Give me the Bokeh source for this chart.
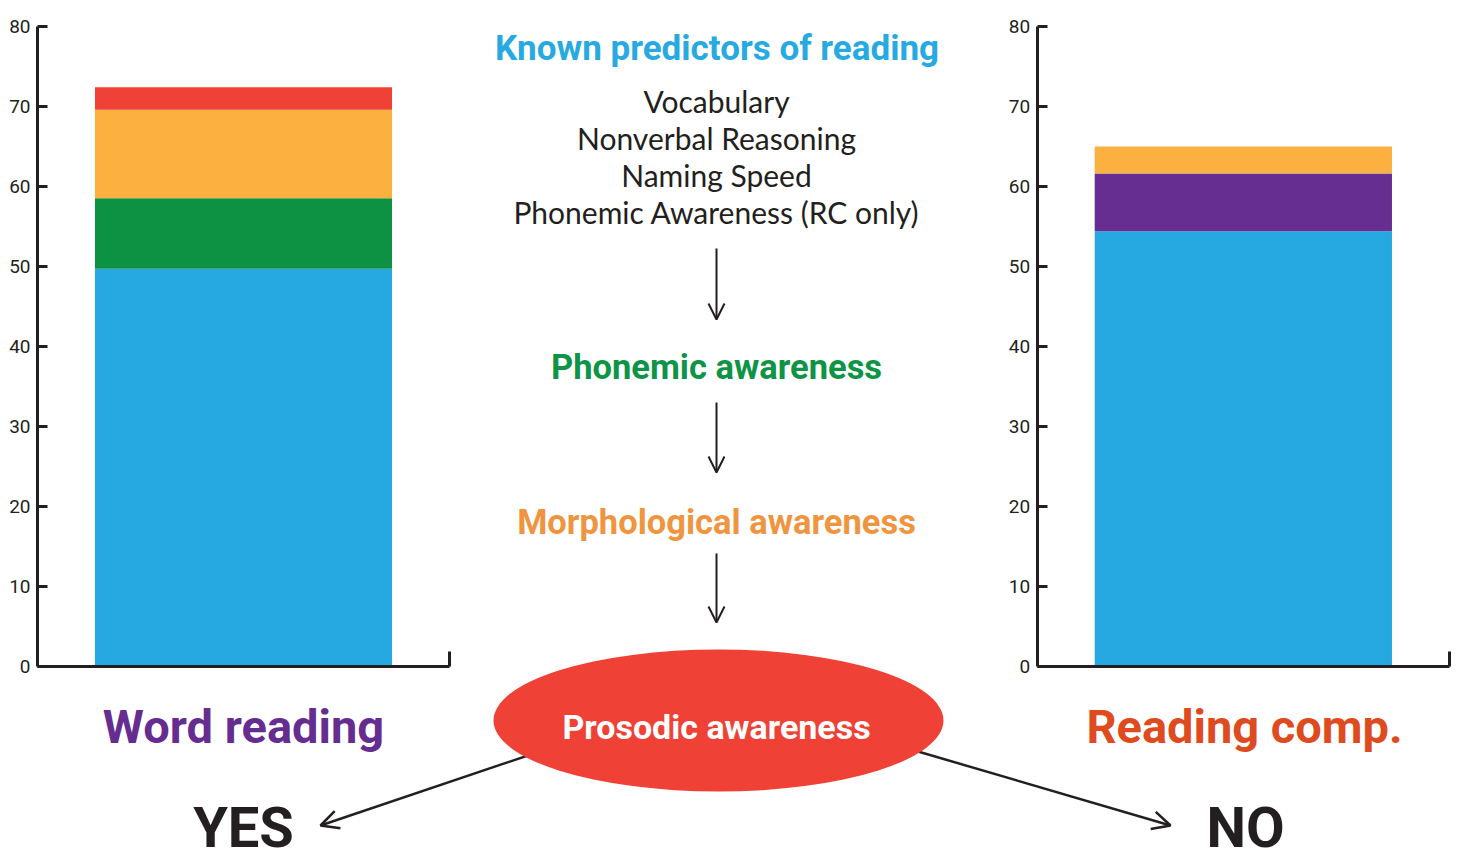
import numpy as np
from bokeh.plotting import figure
from bokeh.models import Range1d, LinearAxis, FixedTicker, Arrow, OpenHead
from bokeh.core.properties import value
from bokeh.embed import file_html
from bokeh.resources import INLINE

# ---------------- data ----------------
wr_segments = ["Known predictors", "Phonemic awareness", "Morphological awareness", "Prosodic awareness"]
wr_values = [49.7, 8.8, 11.1, 2.8]
wr_colors = ["#25a9e0", "#0d9244", "#fcb040", "#f04137"]

rc_segments = ["Known predictors", "Prosodic awareness", "Morphological awareness"]
rc_values = [54.4, 7.2, 3.4]
rc_colors = ["#25a9e0", "#662e91", "#fcb040"]

y_ticks = [0, 10, 20, 30, 40, 50, 60, 70, 80]
predictors = ["Vocabulary", "Nonverbal Reasoning", "Naming Speed", "Phonemic Awareness (RC only)"]

# ---------------- geometry helpers (page pixels) ----------------
PX0, PX1 = 0, 1458      # frame left / right on page
PYB, PYT = 861, 0       # frame bottom / top on page


def rng(v0, p0, v1, p1, lo, hi):
    b = (p1 - p0) / (v1 - v0)
    return Range1d(start=v0 + (lo - p0) / b, end=v0 + (hi - p0) / b)


FONT_NAME = "Roboto"
BOLD = value("Roboto")
REG = value("Lato")
DARK = "#231f20"

p = figure(width=PX1 - PX0, height=PYB - PYT,
           x_range=Range1d(PX0, PX1), y_range=Range1d(PYB, PYT),
           x_axis_type=None, y_axis_type=None,
           output_backend="svg", toolbar_location=None,
           min_border_left=0, min_border_right=0, min_border_top=0, min_border_bottom=0,
           outline_line_color=None)
p.grid.visible = False

p.extra_x_ranges = {
    "L": rng(0, 37, 1, 449, PX0, PX1),
    "R": rng(0, 1036.7, 1, 1449, PX0, PX1),
}
p.extra_y_ranges = {"V": rng(0, 665.5, 80, 26, PYB, PYT)}


def stacked_bar(vals, cols, rname):
    vals = np.asarray(vals, dtype=float)
    tops = np.cumsum(vals)
    bottoms = tops - vals
    p.vbar(x=[0.5] * len(vals), width=0.721, bottom=bottoms, top=tops,
           fill_color=cols, line_color=None, x_range_name=rname, y_range_name="V")


def axes(rname):
    ya = LinearAxis(x_range_name=rname, y_range_name="V", fixed_location=0,
                    bounds=(0, 80), ticker=FixedTicker(ticks=y_ticks),
                    major_tick_in=10, major_tick_out=0,
                    minor_tick_line_color=None,
                    axis_line_width=3, axis_line_color=DARK,
                    major_tick_line_width=3, major_tick_line_color=DARK,
                    major_label_standoff=7,
                    major_label_text_font=FONT_NAME, major_label_text_font_size="19px",
                    major_label_text_color=DARK)
    p.add_layout(ya, "left")
    xa = LinearAxis(x_range_name=rname, y_range_name="V", fixed_location=0,
                    bounds=(0, 1), ticker=FixedTicker(ticks=[1]),
                    major_tick_in=15, major_tick_out=0,
                    minor_tick_line_color=None,
                    axis_line_width=3, axis_line_color=DARK,
                    major_tick_line_width=3, major_tick_line_color=DARK,
                    major_label_text_color=None)
    p.add_layout(xa, "below")


stacked_bar(wr_values, wr_colors, "L")
stacked_bar(rc_values, rc_colors, "R")
axes("L")
axes("R")

# the rendered alphabetic baseline sits about a third of an em below the given y
SHIFT_BOLD = 0.33
SHIFT_REG = 0.41


def label(x, y, txt, color, size):
    p.text(x=[x], y=[y - SHIFT_BOLD * size], text=[txt], text_font=BOLD,
           text_font_style="bold", text_font_size=f"{size}px", text_color=color,
           text_align="center", text_baseline="alphabetic")


label(716.5, 60, "Known predictors of reading", "#27aae1", 35)
reg_size = 30
p.text(x=[716] * len(predictors),
       y=[b - SHIFT_REG * reg_size for b in (113, 150, 187, 224)], text=predictors,
       text_font=REG, text_font_style="normal", text_font_size=f"{reg_size}px",
       text_color=DARK, text_align="center", text_baseline="alphabetic")
label(716, 378, "Phonemic awareness", "#0d9446", 34.5)
label(716, 533, "Morphological awareness", "#f0953f", 34.5)

for ys, ye in [(248, 319), (402, 472), (553, 622)]:
    p.add_layout(Arrow(x_start=716, y_start=ys, x_end=716, y_end=ye,
                       line_width=2, line_color=DARK,
                       end=OpenHead(size=16, line_width=2, line_color=DARK)))

# diagonal arrows to YES / NO (under the ellipse)
p.add_layout(Arrow(x_start=560, y_start=744, x_end=320, y_end=825, level="underlay",
                   line_width=2.5, line_color=DARK,
                   end=OpenHead(size=18, line_width=2.5, line_color=DARK)))
p.add_layout(Arrow(x_start=880, y_start=740, x_end=1170, y_end=825, level="underlay",
                   line_width=2.5, line_color=DARK,
                   end=OpenHead(size=18, line_width=2.5, line_color=DARK)))

p.ellipse(x=[718], y=[720], width=450, height=142, width_units="screen",
          height_units="screen", fill_color="#ef4136", line_color=None)
label(716, 738, "Prosodic awareness", "white", 34)

label(243, 742, "Word reading", "#662d91", 47)
label(1244, 742, "Reading comp.", "#de4b1e", 47)
label(243, 846, "YES", DARK, 56)
label(1245, 846, "NO", DARK, 56)

open("out.html", "w").write(file_html(p, INLINE))
